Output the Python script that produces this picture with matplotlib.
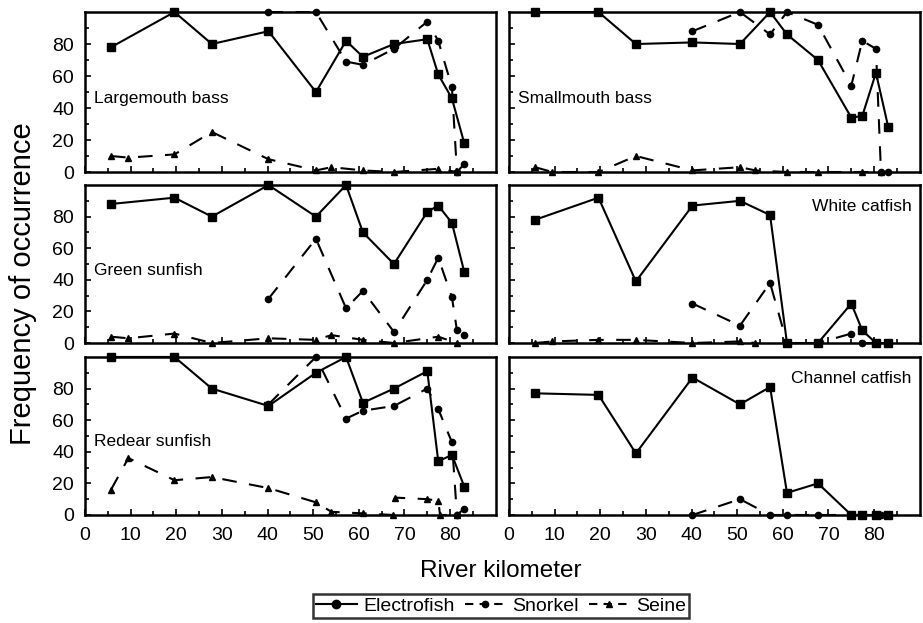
import matplotlib
matplotlib.use("Agg")
import matplotlib.pyplot as plt
from matplotlib.lines import Line2D

plt.rcParams['font.family'] = ['Liberation Sans', 'DejaVu Sans']

# river km of the sampling sites
ef_x = [5.7, 19.6, 27.8, 40.2, 50.6, 57.2, 60.9, 67.7, 75.0, 77.4, 80.4, 83.1]
sn_x = [40.2, 50.6, 57.2, 60.9, 67.7, 75.0, 77.4, 80.4, 81.5, 83.1]
se_x = [5.7, 9.5, 19.6, 27.8, 40.2, 50.6, 54.0, 60.9, 67.7, 77.4, 81.5]

# Largemouth bass
lmb_ef = [78, 100, 80, 88, 50, 82, 72, 80, 83, 61, 46, 18]
lmb_sn = [100, 100, 69, 67, 77, 94, 82, 53, 0, 5]
lmb_se = [10, 9, 11, 25, 8, 1, 3, 1, 0, 2, 0]

# Smallmouth bass
smb_ef = [100, 100, 80, 81, 80, 100, 86, 70, 34, 35, 62, 28]
smb_sn_x = [40.2, 50.6, 57.2, 60.9, 67.7, 75.0, 77.4, 80.4, 81.5, 83.1]
smb_sn = [88, 100, 86, 100, 92, 54, 82, 77, 0, 0]
smb_se = [3, 0, 0, 10, 1, 3, 1, 0, 0, 0, 0]

# Green sunfish
gsf_ef = [88, 92, 80, 100, 80, 100, 70, 50, 83, 87, 76, 45]
gsf_sn = [28, 66, 22, 33, 7, 40, 54, 29, 8, 5]
gsf_se = [4, 3, 6, 0, 3, 2, 5, 2, 0, 4, 0]

# White catfish
wcf_ef = [78, 92, 39, 87, 90, 81, 0, 0, 25, 8, 0, 0]
wcf_sn_x = [40.2, 50.6, 57.2, 60.9, 67.7, 75.0, 77.4, 80.4, 83.1]
wcf_sn = [25, 11, 38, 0, 0, 6, 0, 0, 0]
wcf_se_x = [5.7, 9.5, 19.6, 27.8, 40.2, 50.6, 54.0]
wcf_se = [0, 1, 2, 2, 0, 1, 0]

# Redear sunfish
rsf_ef = [100, 100, 80, 69, 90, 100, 71, 80, 91, 34, 38, 18]
rsf_sn = [70, 100, 61, 66, 69, 80, 67, 46, 0, 4]
rsf_se_x = [5.7, 9.5, 19.6, 27.8, 40.2, 50.6, 54.0, 60.9, 67.5, 67.9, 75.0, 77.4, 77.8, 81.5]
rsf_se = [16, 36, 22, 24, 17, 8, 2, 1, 0, 11, 10, 9, 0, 0]

# Channel catfish
ccf_ef = [77, 76, 39, 87, 70, 81, 14, 20, 0, 0, 0, 0]
ccf_sn = [0, 10, 0, 0, 0, 0, 0, 0, 0, 0]

panels = [
    ("Largemouth bass", (ef_x, lmb_ef), (sn_x, lmb_sn), (se_x, lmb_se), "left"),
    ("Smallmouth bass", (ef_x, smb_ef), (smb_sn_x, smb_sn), (se_x, smb_se), "left"),
    ("Green sunfish", (ef_x, gsf_ef), (sn_x, gsf_sn), (se_x, gsf_se), "left"),
    ("White catfish", (ef_x, wcf_ef), (wcf_sn_x, wcf_sn), (wcf_se_x, wcf_se), "right"),
    ("Redear sunfish", (ef_x, rsf_ef), (sn_x, rsf_sn), (rsf_se_x, rsf_se), "left"),
    ("Channel catfish", (ef_x, ccf_ef), (sn_x, ccf_sn), ([], []), "right"),
]

fig = plt.figure(figsize=(9.23, 6.23), dpi=100)

lefts = [0.0921, 0.5515]
bottoms = [0.7239, 0.4494, 0.1734]
heights = [0.2568, 0.2536, 0.2536]
w = 0.445
label_y = {"left": 0.462, "right": 0.866}

dash = (0, (7, 6))
for i, (name, ef, sn, se, pos) in enumerate(panels):
    r, c = divmod(i, 2)
    ax = fig.add_axes([lefts[c], bottoms[r], w, heights[r]])
    ax.plot(ef[0], ef[1], color='black', lw=1.5, marker='s', ms=6, clip_on=False, zorder=4)
    ax.plot(sn[0], sn[1], color='black', lw=1.5, ls=dash, marker='o', ms=4.5, clip_on=False, zorder=3)
    ax.plot(se[0], se[1], color='black', lw=1.5, ls=dash, marker='^', ms=4.5, clip_on=False, zorder=3)
    ax.set_xlim(0, 90)
    ax.set_ylim(0, 100)
    ax.set_xticks([0, 10, 20, 30, 40, 50, 60, 70, 80])
    ax.set_xticks(range(5, 90, 10), minor=True)
    ax.set_yticks([0, 20, 40, 60, 80])
    ax.set_yticks([10, 30, 50, 70, 90], minor=True)
    ax.tick_params(direction='in', length=4, width=1.2, labelsize=14)
    ax.tick_params(axis='y', pad=8)
    ax.tick_params(axis='x', pad=9)
    ax.tick_params(which='minor', direction='in', length=3, width=1.2)
    for s in ax.spines.values():
        s.set_linewidth(1.8)
    if r < 2:
        ax.set_xticklabels([])
    if c == 1:
        ax.set_yticklabels([])
    if pos == "left":
        ax.text(0.023, label_y[pos], name, transform=ax.transAxes, fontsize=12.5, ha='left', va='center')
    else:
        ax.text(0.98, label_y[pos], name, transform=ax.transAxes, fontsize=12.5, ha='right', va='center')

fig.text(0.025, 0.544, "Frequency of occurrence", rotation=90, fontsize=21, ha='center', va='center')
fig.text(0.543, 0.083, "River kilometer", fontsize=17.5, ha='center', va='center')

handles = [
    Line2D([], [], color='black', lw=1.5, marker='o', ms=6),
    Line2D([], [], color='black', lw=1.5, ls=(0, (4, 3)), marker='o', ms=4.5),
    Line2D([], [], color='black', lw=1.5, ls=(0, (4, 3)), marker='^', ms=4.5),
]
leg = fig.legend(handles, ["Electrofish", "Snorkel", "Seine"], loc='center', bbox_to_anchor=(0.543, 0.027),
                 ncol=3, fontsize=14, frameon=True, fancybox=False, edgecolor='black',
                 handlelength=2.1, handletextpad=0.35, columnspacing=0.5, borderpad=0.15,
                 borderaxespad=0)
leg.get_frame().set_linewidth(1.8)

fig.savefig("out.png", dpi=100)
